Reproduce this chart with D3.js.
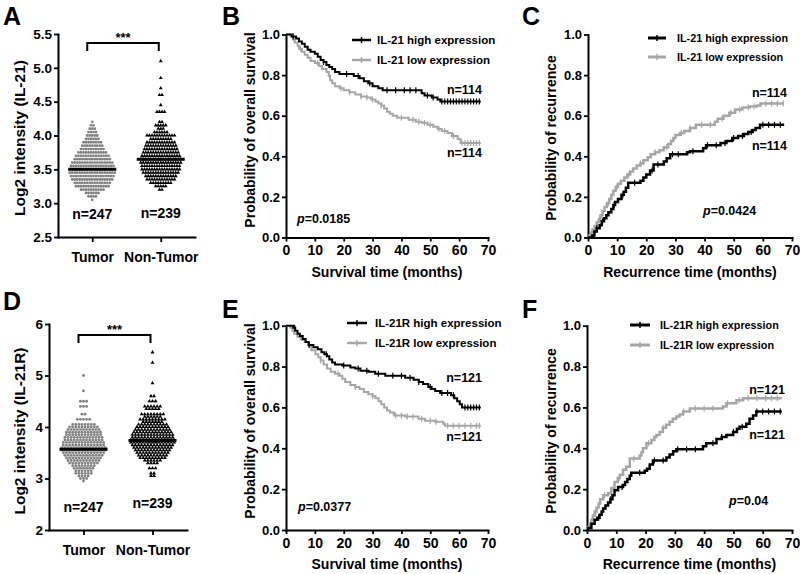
<!DOCTYPE html>
<html><head><meta charset="utf-8">
<script src="https://cdn.jsdelivr.net/npm/d3@7"></script>
<style>
body{margin:0;background:#fff}
svg{display:block}
text{font-family:Arial,"Liberation Sans",Helvetica,sans-serif;font-weight:bold;fill:#000}
</style></head><body>
<svg id="chart" width="800" height="574"></svg>
<script>
// ---------------- DATA ----------------
const groups = ["Tumor", "Non-Tumor"];
const groupN = ["n=247", "n=239"];

// Scatter rows: [value, number of points in that row]
const il21Tumor = [[4.20,1],[4.15,2],[4.10,3],[4.05,4],[4.00,5],[3.95,6],[3.90,8],[3.85,9],[3.80,10],[3.75,12],[3.70,14],[3.65,15],[3.60,17],[3.55,18],[3.50,19],[3.45,19],[3.40,18],[3.35,17],[3.30,15],[3.25,14],[3.20,10],[3.15,6],[3.10,4],[3.05,1]];
const il21NonTumor = [[5.10,1],[4.85,1],[4.70,1],[4.60,2],[4.45,1],[4.35,4],[4.20,2],[4.15,5],[4.10,3],[4.05,6],[4.00,12],[3.95,9],[3.90,12],[3.85,13],[3.80,14],[3.75,15],[3.70,16],[3.65,17],[3.60,17],[3.55,16],[3.50,16],[3.45,15],[3.40,13],[3.35,12],[3.30,9],[3.25,5],[3.20,2]];
const il21Means = [3.50, 3.65];
const il21Ticks = [2.5, 3.0, 3.5, 4.0, 4.5, 5.0, 5.5];

const il21rTumor = [[5.00,1],[4.70,1],[4.50,3],[4.40,3],[4.25,2],[4.15,5],[4.05,8],[4.00,10],[3.95,11],[3.90,12],[3.85,12],[3.80,13],[3.75,13],[3.70,14],[3.65,14],[3.60,15],[3.55,15],[3.50,14],[3.45,13],[3.40,12],[3.35,11],[3.30,10],[3.25,8],[3.20,7],[3.15,6],[3.10,6],[3.05,4],[3.00,3],[2.95,1]];
const il21rNonTumor = [[5.45,1],[5.25,1],[4.85,1],[4.60,2],[4.50,3],[4.40,6],[4.35,5],[4.25,8],[4.20,6],[4.15,9],[4.10,7],[4.05,10],[4.00,11],[3.95,12],[3.90,13],[3.85,14],[3.80,14],[3.75,15],[3.70,15],[3.65,14],[3.60,13],[3.55,12],[3.50,11],[3.45,10],[3.40,9],[3.35,6],[3.30,4],[3.20,3],[3.10,2],[3.05,2]];
const il21rMeans = [3.57, 3.74];
const il21rTicks = [2, 3, 4, 5, 6];

// Kaplan-Meier step curves: [months, probability]
const probTicks = [0, 0.2, 0.4, 0.6, 0.8, 1.0];
const monthTicks = [0, 10, 20, 30, 40, 50, 60, 70];

const bHigh = [[0,1],[2,0.99],[3.5,0.98],[4.5,0.965],[5.5,0.955],[6.5,0.94],[7.5,0.925],[8.5,0.915],[10,0.905],[11,0.89],[12,0.875],[13,0.865],[14,0.85],[15,0.84],[16,0.83],[17,0.815],[18.5,0.805],[23.5,0.795],[25.5,0.785],[27,0.77],[28.5,0.76],[30,0.745],[32,0.735],[33.5,0.725],[47,0.71],[48,0.70],[50.5,0.69],[52.5,0.68],[53.5,0.67],[67.5,0.67]];
const bLow = [[0,1],[1.5,0.99],[2.5,0.975],[3,0.96],[4,0.945],[4.5,0.93],[5.5,0.915],[6.5,0.9],[7.5,0.885],[8.5,0.87],[10,0.86],[11.5,0.845],[12.5,0.83],[14,0.815],[14.8,0.795],[15.3,0.775],[16,0.76],[17,0.745],[18.5,0.735],[20,0.725],[22,0.715],[24,0.705],[26,0.695],[28,0.69],[29.5,0.68],[31,0.67],[32,0.66],[33,0.65],[34,0.635],[35,0.62],[36,0.61],[37,0.6],[38.5,0.59],[42.5,0.58],[45,0.57],[47,0.565],[49,0.555],[51,0.545],[52.5,0.535],[54,0.525],[56,0.515],[57.5,0.5],[59.5,0.485],[60.5,0.465],[67.5,0.465]];
const bHighCens = [2.5,13,21,25,29,35,38,41,43,45,49,51,54,55,56,57,58,59,60,61,62,63,64,65,66,67];
const bLowCens = [5,11,19,22,26,28,30,33,40,44,46,48,50,53,55,58,61,62,63,64,65,66,67];

const cHigh = [[0,0],[1.5,0.01],[2.2,0.03],[3,0.045],[4,0.06],[4.7,0.08],[5.5,0.095],[6.3,0.11],[7,0.125],[8,0.14],[8.7,0.16],[9.3,0.175],[10.3,0.19],[11.5,0.21],[12.3,0.225],[13,0.245],[13.8,0.27],[18,0.28],[19,0.295],[20,0.31],[21.3,0.33],[22.5,0.36],[26,0.375],[27,0.39],[28.2,0.41],[34,0.42],[35,0.425],[39.5,0.44],[40.5,0.455],[45.5,0.465],[47.5,0.475],[49.5,0.49],[51.5,0.5],[53.5,0.51],[55,0.52],[56.5,0.53],[57.5,0.54],[59,0.555],[67.3,0.555]];
const cLow = [[0,0],[0.5,0.01],[1,0.025],[1.5,0.04],[2.3,0.055],[3,0.075],[3.7,0.09],[4.3,0.11],[5,0.13],[5.7,0.15],[6.5,0.17],[7.3,0.19],[8,0.21],[8.7,0.23],[9.5,0.25],[10.3,0.265],[11.3,0.28],[12.5,0.295],[13.5,0.31],[14.5,0.325],[15.5,0.34],[16.7,0.355],[18,0.365],[19,0.38],[20.5,0.395],[21.5,0.41],[23,0.42],[24.5,0.43],[26,0.445],[27.5,0.46],[28.5,0.475],[29.3,0.49],[30,0.505],[31.5,0.515],[33,0.525],[35,0.54],[37,0.555],[43.5,0.57],[44.5,0.585],[46.5,0.6],[48.5,0.615],[50.5,0.63],[53,0.64],[55.5,0.645],[58,0.65],[59.2,0.66],[67.3,0.66]];
const cHighCens = [3,5,9,12,16,22,24,29,31,36,41,44,47,50,53,56,60,62,64,66];
const cLowCens = [4,7,10,14,18,23,27,32,35,39,42,46,49,52,55,57,61,63,65,67];

const eHigh = [[0,1],[2.5,0.99],[3.2,0.975],[4,0.96],[4.8,0.95],[5.8,0.935],[6.8,0.92],[7.8,0.905],[9.5,0.895],[11,0.885],[12.3,0.87],[13.3,0.86],[14.2,0.85],[15,0.835],[16,0.82],[17,0.81],[19.5,0.805],[22.3,0.795],[24,0.79],[25.8,0.78],[28.6,0.775],[30.9,0.765],[34.4,0.755],[41.3,0.745],[44.2,0.735],[46,0.725],[47.5,0.715],[49.3,0.70],[50.5,0.69],[51.7,0.68],[53.4,0.67],[57.2,0.66],[58.3,0.645],[59.3,0.63],[60.2,0.615],[61,0.60],[67.5,0.60]];
const eLow = [[0,1],[1.5,0.99],[2.2,0.975],[2.8,0.96],[4,0.945],[5.5,0.93],[6.5,0.92],[8,0.9],[8.8,0.88],[10.2,0.86],[11.2,0.845],[12,0.83],[13,0.81],[14.2,0.79],[15.5,0.775],[17,0.765],[18.5,0.755],[19.5,0.74],[20.5,0.725],[22.3,0.71],[24,0.70],[25.5,0.69],[27,0.675],[28.5,0.665],[30,0.655],[31,0.645],[32.1,0.63],[33,0.615],[34,0.6],[35,0.585],[36,0.575],[37.4,0.56],[41.3,0.555],[45.9,0.545],[48.2,0.535],[51.7,0.53],[54.5,0.52],[55.1,0.51],[67.5,0.51]];
const eHighCens = [3,8,14,20,25,28,32,37,40,43,46,50,54,56,58,62,63,64,65,66,67];
const eLowCens = [5,12,18,24,30,38,40,42,44,47,50,52,56,58,60,62,64,66,67];

const fHigh = [[0,0],[0.5,0.01],[1.5,0.03],[2.6,0.05],[3.5,0.06],[4.3,0.075],[5,0.09],[5.5,0.105],[6.3,0.12],[7.2,0.135],[8,0.15],[8.7,0.17],[9.4,0.195],[10.6,0.21],[12.3,0.22],[13,0.235],[13.8,0.25],[14.6,0.265],[15.1,0.28],[19.7,0.29],[20.5,0.30],[21.4,0.32],[22.5,0.34],[27.1,0.355],[28.2,0.37],[29.4,0.385],[30.5,0.395],[39.6,0.41],[40.7,0.425],[44.2,0.445],[46,0.455],[47.6,0.465],[49.9,0.48],[51.2,0.495],[52.1,0.505],[54.4,0.52],[55.5,0.545],[56.7,0.56],[57.8,0.58],[66.5,0.58]];
const fLow = [[0,0],[0.5,0.015],[1,0.03],[1.5,0.05],[2,0.07],[2.6,0.09],[3.3,0.11],[4,0.13],[4.5,0.15],[5.5,0.17],[7.2,0.18],[8.3,0.205],[9.4,0.235],[10.5,0.255],[11.2,0.27],[12.3,0.295],[13.4,0.31],[14.6,0.35],[18,0.365],[18.6,0.38],[19.1,0.40],[20.3,0.425],[22,0.44],[23,0.455],[23.7,0.465],[24.8,0.48],[25.9,0.50],[27,0.515],[28.2,0.53],[29.3,0.545],[30.5,0.555],[31.6,0.565],[32.8,0.58],[35.1,0.595],[46.4,0.605],[47.6,0.62],[51,0.635],[53.3,0.645],[66.5,0.645]];
const fHighCens = [4,8,12,18,23,26,31,34,37,43,46,50,53,58,60,62,64,66];
const fLowCens = [3,6,11,16,21,26,33,37,40,43,48,52,55,58,61,63,65];

// ---------------- DRAWING ----------------
const svg = d3.select("#chart");
const GRAY_PT = "#808080", GRAY_LINE = "#a6a6a6";

function styleAxis(sel, fs) {
  sel.select(".domain").attr("stroke", "#000").attr("stroke-width", 2).attr("stroke-linecap", "square");
  sel.selectAll(".tick line").attr("stroke", "#000").attr("stroke-width", 1.8);
  sel.selectAll(".tick text").attr("fill", "#000").style("font-size", fs + "px").style("font-weight", "bold");
}

function txt(x, y, s, fs, anchor, g) {
  return (g || svg).append("text").attr("x", x).attr("y", y).attr("text-anchor", anchor || "start")
    .style("font-size", fs + "px").text(s);
}

function panelLetter(x, y, s) { txt(x, y, s, 25); }

function scatterPanel(o) {
  const y = d3.scaleLinear().domain(o.yDomain).range([o.yBottom, o.yTop]);
  const x = d3.scalePoint().domain(groups).range([o.xLeft, o.xRight]).padding(0.5);
  const gy = svg.append("g").attr("transform", `translate(${o.xLeft},0)`)
    .call(d3.axisLeft(y).tickValues(o.ticks).tickFormat(d3.format(o.fmt)).tickSize(4).tickSizeOuter(0).tickPadding(2));
  styleAxis(gy, 13.5);
  const gx = svg.append("g").attr("transform", `translate(0,${o.yBottom})`)
    .call(d3.axisBottom(x).tickSize(5).tickSizeOuter(0).tickPadding(10));
  styleAxis(gx, 14);

  const expand = (rows, cat) => rows.flatMap(([v, c]) => d3.range(c).map(i => ({ v, off: i - (c - 1) / 2, cat })));
  const pts0 = expand(o.rows[0], groups[0]);
  const pts1 = expand(o.rows[1], groups[1]);
  svg.append("g").selectAll("circle").data(pts0).join("circle")
    .attr("cx", d => x(d.cat) + d.off * o.dx).attr("cy", d => y(d.v)).attr("r", 1.4).attr("fill", GRAY_PT);
  const tri = d3.symbol(d3.symbolTriangle, 6.5);
  svg.append("g").selectAll("path").data(pts1).join("path")
    .attr("transform", d => `translate(${x(d.cat) + d.off * o.dx},${y(d.v)})`).attr("d", tri).attr("fill", "#000");
  // mean lines
  svg.append("g").selectAll("line").data(o.means).join("line")
    .attr("x1", (d, i) => x(groups[i]) - 24).attr("x2", (d, i) => x(groups[i]) + 24)
    .attr("y1", d => y(d)).attr("y2", d => y(d)).attr("stroke", "#000").attr("stroke-width", 3);
  // n labels
  groupN.forEach((s, i) => txt(x(groups[i]), o.nY[i], s, 14, "middle"));
  // bracket
  const bx0 = x(groups[0]) - 5, bx1 = x(groups[1]) - 2;
  svg.append("path").attr("d", `M${bx0},${o.brY + 8}V${o.brY}H${bx1}V${o.brY + 8}`)
    .attr("fill", "none").attr("stroke", "#000").attr("stroke-width", 2);
  txt((bx0 + bx1) / 2, o.brY - 1, "***", 13, "middle");
  // y title
  svg.append("text").attr("transform", `translate(${o.titleX},${o.titleY}) rotate(-90)`)
    .attr("text-anchor", "middle").style("font-size", "15.5px").text(o.yTitle);
}

function valueAt(data, t) {
  let v = data[0][1];
  for (const d of data) { if (d[0] <= t) v = d[1]; else break; }
  return v;
}

function kmPanel(o) {
  const x = d3.scaleLinear().domain([0, 70]).range([o.x0, o.x1]);
  const y = d3.scaleLinear().domain([0, 1]).range([o.yB, o.yT]);
  const gy = svg.append("g").attr("transform", `translate(${o.x0},0)`)
    .call(d3.axisLeft(y).tickValues(probTicks).tickFormat(d3.format(".1f")).tickSize(4).tickSizeOuter(0).tickPadding(2));
  styleAxis(gy, 13);
  const gx = svg.append("g").attr("transform", `translate(0,${o.yB})`)
    .call(d3.axisBottom(x).tickValues(monthTicks).tickFormat(d3.format("d")).tickSize(4).tickSizeOuter(0).tickPadding(4));
  styleAxis(gx, 14);

  const line = d3.line().x(d => x(d[0])).y(d => y(d[1])).curve(d3.curveStepAfter);
  const series = [
    { data: o.low, cens: o.lowCens, color: GRAY_LINE },
    { data: o.high, cens: o.highCens, color: "#000" }
  ];
  series.forEach(s => {
    svg.append("path").datum(s.data).attr("d", line).attr("fill", "none")
      .attr("stroke", s.color).attr("stroke-width", o.lw);
    svg.append("g").selectAll("line").data(s.cens).join("line")
      .attr("x1", d => x(d)).attr("x2", d => x(d))
      .attr("y1", d => y(valueAt(s.data, d)) - 3).attr("y2", d => y(valueAt(s.data, d)) + 3)
      .attr("stroke", s.color).attr("stroke-width", 1.2);
  });
  // legend
  const leg = [{ label: o.legHigh, color: "#000" }, { label: o.legLow, color: GRAY_LINE }];
  leg.forEach((l, i) => {
    const ly = o.legY + i * o.legGap;
    svg.append("line").attr("x1", o.legX0).attr("x2", o.legX1).attr("y1", ly).attr("y2", ly)
      .attr("stroke", l.color).attr("stroke-width", o.lw + 0.5);
    const mx = (o.legX0 + o.legX1) / 2;
    svg.append("line").attr("x1", mx).attr("x2", mx).attr("y1", ly - 3).attr("y2", ly + 3)
      .attr("stroke", l.color).attr("stroke-width", 1.5);
    txt(o.legTX, ly + 4, l.label, o.legFS);
  });
  // n labels
  txt(o.nX, o.nY[0], o.nText, 12.5, "end");
  txt(o.nX, o.nY[1], o.nText, 12.5, "end");
  // p value
  const pt = svg.append("text").attr("x", o.pX).attr("y", o.pY).style("font-size", "12.5px");
  pt.append("tspan").style("font-style", "italic").text("p");
  pt.append("tspan").text(o.pText);
  // titles
  txt((o.x0 + o.x1) / 2, o.yB + 39, o.xTitle, 14, "middle");
  svg.append("text").attr("transform", `translate(${o.titleX},${o.titleY}) rotate(-90)`)
    .attr("text-anchor", "middle").style("font-size", "14px").text(o.yTitle);
}

// Panel letters
panelLetter(3, 25, "A"); panelLetter(222, 25, "B"); panelLetter(522, 25, "C");
panelLetter(3, 310, "D"); panelLetter(222, 318, "E"); panelLetter(522, 318, "F");

scatterPanel({ yDomain: [2.5, 5.5], yBottom: 237, yTop: 34, xLeft: 58, xRight: 195, ticks: il21Ticks, fmt: ".1f",
  rows: [il21Tumor, il21NonTumor], means: il21Means, dx: 2.5, nY: [219, 218], brY: 43,
  yTitle: "Log2 intensity (IL-21)", titleX: 25, titleY: 138 });
scatterPanel({ yDomain: [2, 6], yBottom: 530, yTop: 324, xLeft: 49, xRight: 187, ticks: il21rTicks, fmt: "d",
  rows: [il21rTumor, il21rNonTumor], means: il21rMeans, dx: 3.1, nY: [512, 508], brY: 335,
  yTitle: "Log2 intensity (IL-21R)", titleX: 25, titleY: 431 });

kmPanel({ x0: 286, x1: 488, yB: 237.5, yT: 34.5, high: bHigh, low: bLow, highCens: bHighCens, lowCens: bLowCens, lw: 2,
  legHigh: "IL-21 high expression", legLow: "IL-21 low expression", legX0: 352, legX1: 371, legTX: 377, legY: 40, legGap: 20, legFS: 11.5,
  nX: 482, nY: [94, 157], nText: "n=114", pX: 297, pY: 223, pText: "=0.0185",
  xTitle: "Survival time (months)", yTitle: "Probability of overall survival", titleX: 255, titleY: 130 });
kmPanel({ x0: 588, x1: 792, yB: 237.5, yT: 34.5, high: cHigh, low: cLow, highCens: cHighCens, lowCens: cLowCens, lw: 2.5,
  legHigh: "IL-21 high expression", legLow: "IL-21 low expression", legX0: 648, legX1: 666, legTX: 677, legY: 38, legGap: 19, legFS: 10.8,
  nX: 787, nY: [97, 150], nText: "n=114", pX: 703, pY: 215, pText: "=0.0424",
  xTitle: "Recurrence time (months)", yTitle: "Probability of recurrence", titleX: 556, titleY: 138 });
kmPanel({ x0: 286, x1: 488, yB: 530, yT: 325.7, high: eHigh, low: eLow, highCens: eHighCens, lowCens: eLowCens, lw: 2,
  legHigh: "IL-21R high expression", legLow: "IL-21R low expression", legX0: 347, legX1: 367, legTX: 375, legY: 323, legGap: 20, legFS: 11.5,
  nX: 482, nY: [382, 441], nText: "n=121", pX: 298, pY: 511, pText: "=0.0377",
  xTitle: "Survival time (months)", yTitle: "Probability of overall survival", titleX: 255, titleY: 421 });
kmPanel({ x0: 587, x1: 792, yB: 530, yT: 325.7, high: fHigh, low: fLow, highCens: fHighCens, lowCens: fLowCens, lw: 2.5,
  legHigh: "IL-21R high expression", legLow: "IL-21R low expression", legX0: 630, legX1: 650, legTX: 660, legY: 325, legGap: 20, legFS: 10.8,
  nX: 785, nY: [394, 439], nText: "n=121", pX: 729, pY: 505, pText: "=0.04",
  xTitle: "Recurrence time (months)", yTitle: "Probability of recurrence", titleX: 556, titleY: 431 });
</script>
</body></html>
